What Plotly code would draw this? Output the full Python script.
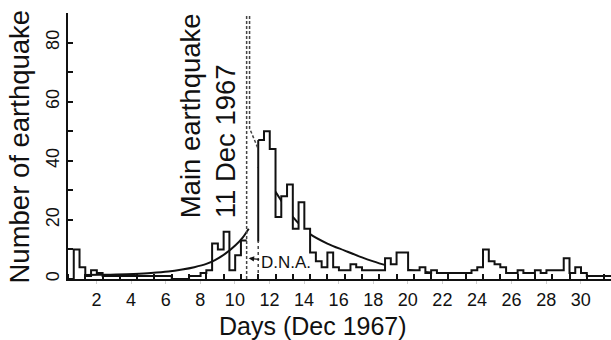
import plotly.graph_objects as go

# ---------------- data ----------------
BIN = 1 / 3  # 8-hour bins, time in days since 1 Dec 1967 00:00

pre_start = 0.0
pre_counts = [0, 10, 4, 1, 3, 2, 1, 1, 1, 1, 1, 1, 1, 1, 1, 1, 1, 1,
              0, 0, 0, 1, 1, 2, 3, 12, 10, 16, 3, 8, 13]

post_start = 11.0
post_counts = [47, 50, 44, 21, 28, 32, 17, 26, 17, 9, 6, 4, 9, 4, 3, 3, 5, 4,
               3, 3, 3, 3, 7, 5, 9, 9, 3, 3, 4, 2, 3, 2, 2, 2, 2, 2, 2, 3,
               4, 10, 6, 5, 4, 2, 2, 3, 2, 2, 3, 2, 3, 3, 3, 7, 2, 4, 2, 1,
               1, 1, 1, 1]

# fitted curves (foreshock rise, aftershock decay)
rise_t = [1.0, 1.8, 2.8, 3.8, 4.8, 5.8, 6.6, 7.3, 8.0, 8.5, 9.1, 9.7, 10.1, 10.45]
rise_v = [1.35, 1.4, 1.5, 1.7, 2.0, 2.5, 3.2, 4.0, 5.1, 6.4, 8.6, 11.5, 14.0, 17.0]

decay_t = [11.0, 11.5, 12.0, 12.5, 13.0, 13.5, 14.0, 15.0, 16.0, 17.0, 18.0,
           19.0, 20.0, 21.0, 22.0]
decay_v = [38.0, 33.5, 29.5, 25.0, 21.0, 17.8, 15.2, 12.0, 9.6, 7.3, 5.3,
           3.8, 2.8, 2.2, 1.9]

x_label_days = list(range(2, 31, 2))
label_shift = 0.35          # day labels sit a little left of the day's end
y_tick_vals = list(range(0, 91, 10))
y_label_vals = [0, 20, 40, 60, 80]

mainshock_x = [10.33, 10.5]   # double dashed marker of the main shock
offscale_top = 89
bend_y = 51
slant_end = [11.0, 44]
dna_level = 12.6
dna_arrow_tip = [10.45, 7.0]

FONT = "Liberation Sans, Arial, Helvetica, sans-serif"
INK = "#111111"
BIG = 27.5


def step_xy(start, counts):
    xs = [start + i * BIN for i in range(len(counts) + 1)]
    ys = list(counts) + [counts[-1]]
    return xs, ys


fig = go.Figure()

# aftershock decay curve (behind the white-filled histogram)
fig.add_trace(go.Scatter(x=decay_t, y=decay_v, mode="lines",
                         line=dict(color=INK, width=2, shape="spline"),
                         hoverinfo="skip"))

for start, counts in [(pre_start, pre_counts), (post_start, post_counts)]:
    xs, ys = step_xy(start, counts)
    fig.add_trace(go.Scatter(x=xs, y=ys, mode="lines",
                             line=dict(color=INK, width=2, shape="hv"),
                             fill="tozeroy", fillcolor="white",
                             cliponaxis=False, hoverinfo="skip"))

# foreshock rising curve (on top)
fig.add_trace(go.Scatter(x=rise_t, y=rise_v, mode="lines",
                         line=dict(color=INK, width=2, shape="spline"),
                         hoverinfo="skip"))

# left edge of the first post-quake bar: solid above D.N.A. level, dashed below
fig.add_trace(go.Scatter(x=[post_start, post_start], y=[dna_level, post_counts[0]],
                         mode="lines", line=dict(color=INK, width=2),
                         hoverinfo="skip"))
fig.add_trace(go.Scatter(x=[post_start, post_start], y=[0, dna_level],
                         mode="lines", line=dict(color="#444", width=1.5, dash="3px,3px"),
                         hoverinfo="skip"))

# main shock (off scale) dashed double line
fig.add_trace(go.Scatter(x=[mainshock_x[0], mainshock_x[0]], y=[0, offscale_top],
                         mode="lines", line=dict(color="#444", width=1.5, dash="3px,2px"),
                         hoverinfo="skip"))
fig.add_trace(go.Scatter(x=[mainshock_x[1], mainshock_x[1], slant_end[0]],
                         y=[offscale_top, bend_y, slant_end[1]],
                         mode="lines", line=dict(color="#444", width=1.5, dash="3px,2px"),
                         hoverinfo="skip"))

fig.add_annotation(x=8.09, y=20.0, xref="x", yref="y",
                   text="Main earthquake<br>11 Dec 1967", textangle=-90,
                   xanchor="center", yanchor="bottom", align="left",
                   showarrow=False, font=dict(family=FONT, size=BIG, color=INK))

fig.add_annotation(x=dna_arrow_tip[0], y=dna_arrow_tip[1], xref="x", yref="y",
                   text="D.N.A.", showarrow=True, ax=37, ay=4,
                   arrowhead=2, arrowsize=0.9, arrowwidth=1.2, arrowcolor=INK,
                   font=dict(family=FONT, size=17, color=INK))

fig.add_annotation(x=(19 - 68) / 543, y=(279 - 146.5) / 266, xref="paper", yref="paper",
                   text="Number of earthquake", textangle=-90, showarrow=False,
                   xanchor="center", yanchor="middle",
                   font=dict(family=FONT, size=BIG, color=INK))
fig.add_annotation(x=(313 - 68) / 543, y=(279 - 325.5) / 266, xref="paper", yref="paper",
                   text="Days (Dec 1967)", showarrow=False,
                   xanchor="center", yanchor="middle",
                   font=dict(family=FONT, size=25, color=INK))

fig.update_layout(
    width=611, height=340,
    margin=dict(l=68, r=0, t=13, b=61),
    paper_bgcolor="white", plot_bgcolor="white",
    showlegend=False,
    font=dict(family=FONT, color=INK),
)
fig.update_xaxes(
    range=[0, 31.4], showgrid=False, zeroline=False,
    showline=True, linecolor=INK, linewidth=2,
    tickmode="array",
    tickvals=[d - label_shift for d in x_label_days],
    ticktext=[str(d) for d in x_label_days],
    ticks="outside", ticklen=3, tickcolor="#cfcfcf", tickwidth=1,
    tickfont=dict(family=FONT, size=18, color=INK),
    ticklabelstandoff=0,
    minor=dict(ticks="inside", ticklen=5, tickwidth=1.5, tickcolor=INK,
               dtick=1, tick0=0, showgrid=False),
)
fig.update_yaxes(
    range=[0, 90], showgrid=False, zeroline=False,
    showline=True, linecolor=INK, linewidth=2,
    tickmode="array", tickvals=y_tick_vals,
    ticktext=[str(v) if v in y_label_vals else "" for v in y_tick_vals],
    ticks="inside", ticklen=5, tickwidth=2, tickcolor=INK,
    tickangle=-90,
    tickfont=dict(family=FONT, size=18, color=INK),
)

fig.write_html(
    "out.html",
    config={"displayModeBar": False},
    post_script="document.body.style.margin='0px';document.body.style.overflow='hidden';",
)
